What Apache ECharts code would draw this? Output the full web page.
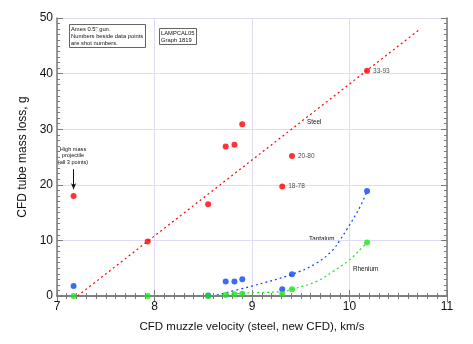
<!DOCTYPE html>
<html><head><meta charset="utf-8">
<script src="https://cdn.jsdelivr.net/npm/echarts@6/dist/echarts.min.js"></script>
<style>html,body{margin:0;padding:0;background:#fff}#c{width:473px;height:344px}</style>
</head><body><div id="c"></div>
<script>
const steelPoints = [[7.17,18.0],[7.93,9.8],[8.55,16.5],[8.73,26.9],[8.82,27.2],[8.90,30.9],[9.41,25.2],[9.31,19.7],[10.18,40.5]];
const steelShots = ['', '', '', '', '', '', '20-80', '18-78', '33-93'];
const tantalumPoints = [[7.17,1.8],[8.55,0.1],[8.73,2.6],[8.82,2.6],[8.90,3.0],[9.31,1.2],[9.41,3.9],[10.18,18.9]];
const rheniumPoints = [[7.17,0],[7.93,0],[8.55,0],[8.73,0.2],[8.82,0.3],[8.90,0.4],[9.31,0.4],[9.41,1.2],[10.18,9.6]];
const steelFit = [[7.21,0],[10.73,48.1]];
const tantalumFit = [[8.59,0],[8.98,1.7],[9.41,3.9],[9.66,5.9],[9.83,8.3],[9.90,10.0],[9.97,11.9],[10.11,16.1],[10.18,18.9]];
const rheniumFit = [[8.54,0],[8.91,0.5],[9.31,0.8],[9.41,1.2],[9.66,2.6],[9.83,4.4],[10.0,6.5],[10.14,8.9],[10.18,9.6]];
const xTicks = [7,8,9,10,11];
const yTicks = [0,10,20,30,40,50];

const RED='#ff0000', BLUE='#0a45ff', GREEN='#18e618';
const chart = echarts.init(document.getElementById('c'));
const axisCommon = {
  axisLine:{show:true,lineStyle:{color:'#7a7a7a',width:1.5}},
  axisTick:{show:true,inside:true,length:6,lineStyle:{color:'#7a7a7a'}},
  minorTick:{show:true,splitNumber:10,length:3,lineStyle:{color:'#7a7a7a'}},
};
const fontFam = 'Liberation Sans, Arial, sans-serif';
chart.setOption({
  animation:false,
  grid:{left:57,right:26,top:18,bottom:48},
  xAxis:[
    Object.assign({type:'value',min:xTicks[0],max:xTicks[xTicks.length-1],interval:1,position:'bottom',
      name:'CFD muzzle velocity (steel, new CFD), km/s',nameLocation:'middle',nameGap:25,
      nameTextStyle:{fontSize:11.5,color:'#111',fontFamily:fontFam},
      axisLabel:{fontSize:12,color:'#111',margin:5,fontFamily:fontFam},
      splitLine:{show:true,lineStyle:{color:'#dcdcf6',width:1}}},axisCommon),
    Object.assign({type:'value',min:xTicks[0],max:xTicks[xTicks.length-1],interval:1,position:'top',
      axisLabel:{show:false},splitLine:{show:false}},axisCommon)
  ],
  yAxis:[
    Object.assign({type:'value',min:yTicks[0],max:yTicks[yTicks.length-1],interval:10,position:'left',
      name:'CFD tube mass loss, g',nameLocation:'middle',nameGap:28,
      nameTextStyle:{fontSize:12,color:'#111',fontFamily:fontFam},
      axisLabel:{fontSize:12,color:'#111',margin:4,fontFamily:fontFam},
      splitLine:{show:true,lineStyle:{color:'#dcdcf6',width:1}}},axisCommon),
    Object.assign({type:'value',min:yTicks[0],max:yTicks[yTicks.length-1],interval:10,position:'right',
      axisLabel:{show:false},splitLine:{show:false}},axisCommon)
  ],
  series:[
    {type:'line',data:steelFit,showSymbol:false,symbol:'none',lineStyle:{color:RED,width:1.2,type:[2,3]},z:2},
    {type:'line',data:tantalumFit,smooth:0.4,showSymbol:false,symbol:'none',lineStyle:{color:BLUE,width:1.2,type:[2,3]},z:2},
    {type:'line',data:rheniumFit,smooth:0.4,showSymbol:false,symbol:'none',lineStyle:{color:GREEN,width:1.2,type:[2,3]},z:2},
    {type:'scatter',symbolSize:6,itemStyle:{color:BLUE},data:tantalumPoints,z:3},
    {type:'scatter',symbolSize:6,itemStyle:{color:GREEN},data:rheniumPoints,z:4},
    {type:'scatter',symbolSize:6,itemStyle:{color:RED},z:5,
      data:steelPoints.map((p,i)=>({value:p,label:{show:!!steelShots[i],formatter:steelShots[i],position:'right',distance:3,fontSize:6.5,color:'#222',fontFamily:fontFam}})),
      markLine:{silent:true,symbol:['none','arrow'],symbolSize:[4,6],label:{show:false},
        lineStyle:{color:'#111',width:1,type:'solid'},
        data:[[{coord:[7.17,22.8]},{coord:[7.17,19.2]}]]}
    }
  ],
  graphic:[
    {type:'rect',shape:{x:69.5,y:24.5,width:76,height:23},style:{fill:'#fff',stroke:'#666',lineWidth:1}},
    {type:'text',x:71,y:26.5,style:{text:'Ames 0.5" gun.\nNumbers beside data points\nare shot numbers.',fontSize:5.8,lineHeight:6.7,fill:'#111',fontFamily:fontFam}},
    {type:'rect',shape:{x:159.5,y:28.5,width:37,height:16},style:{fill:'#fff',stroke:'#666',lineWidth:1}},
    {type:'text',x:161,y:30.5,style:{text:'LAMPCAL05\nGraph 1819',fontSize:5.8,lineHeight:6.5,fill:'#111',fontFamily:fontFam}},
    {type:'text',x:73,y:146,style:{text:'High mass\nprojectile\n(all 3 points)',align:'center',fontSize:5.6,lineHeight:6.5,fill:'#111',fontFamily:fontFam}},
    {type:'text',x:307,y:119.5,style:{text:'Steel',fontSize:6.3,fill:'#111',fontFamily:fontFam}},
    {type:'text',x:309,y:236,style:{text:'Tantalum',fontSize:6.3,fill:'#111',fontFamily:fontFam}},
    {type:'text',x:353,y:266,style:{text:'Rhenium',fontSize:6.3,fill:'#111',fontFamily:fontFam}}
  ]
});
</script></body></html>
